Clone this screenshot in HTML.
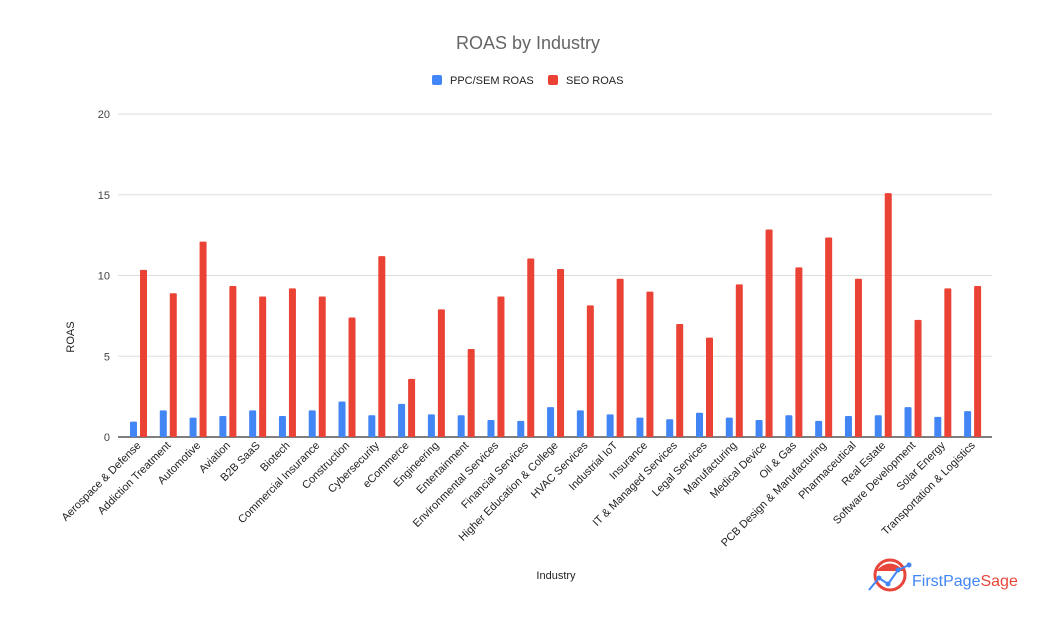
<!DOCTYPE html>
<html><head><meta charset="utf-8"><style>
body{margin:0;background:#fff;font-family:"Liberation Sans",Arial,sans-serif;}
</style></head><body>
<svg id="chart" width="1049" height="617" xmlns="http://www.w3.org/2000/svg" font-family="Liberation Sans, Arial, sans-serif">
<rect width="1049" height="617" fill="#fff"/>
<text x="528" y="49" text-anchor="middle" font-size="18" fill="#666">ROAS by Industry</text>
<g>
<rect x="432" y="75" width="10" height="10" rx="2" fill="#4285f4"/>
<text x="450" y="84" font-size="11" fill="#222">PPC/SEM ROAS</text>
<rect x="548" y="75" width="10" height="10" rx="2" fill="#ea4335"/>
<text x="566" y="84" font-size="11" fill="#222">SEO ROAS</text>
</g>
<g id="grid"></g><g id="bars"></g><g id="xlabels"></g>
<text transform="translate(74,337) rotate(-90)" text-anchor="middle" font-size="11" fill="#222">ROAS</text>
<text x="556" y="579" text-anchor="middle" font-size="11" fill="#222">Industry</text>
<g>
<circle cx="890" cy="575" r="15" fill="#fff" stroke="#e8463a" stroke-width="3"/>
<path d="M876,571 Q890,556 904,571 Z" fill="#e8463a"/>
<polyline points="869,590 879,578 888,584 898,570 909,565" fill="none" stroke="#4285f4" stroke-width="2"/>
<circle cx="879" cy="578" r="2.5" fill="#4285f4"/><circle cx="888" cy="584" r="2.5" fill="#4285f4"/><circle cx="898" cy="570" r="2.5" fill="#4285f4"/><circle cx="909" cy="565" r="2.5" fill="#4285f4"/>
<text x="912" y="586" font-size="16" fill="#4285f4">FirstPage<tspan fill="#e8463a">Sage</tspan></text>
</g>
</svg>
<script>
const categories=["Aerospace & Defense","Addiction Treatment","Automotive","Aviation","B2B SaaS","Biotech","Commercial Insurance","Construction","Cybersecurity","eCommerce","Engineering","Entertainment","Environmental Services","Financial Services","Higher Education & College","HVAC Services","Industrial IoT","Insurance","IT & Managed Services","Legal Services","Manufacturing","Medical Device","Oil & Gas","PCB Design & Manufacturing","Pharmaceutical","Real Estate","Software Development","Solar Energy","Transportation & Logistics"];
const ppcValues=[0.95,1.65,1.2,1.3,1.65,1.3,1.65,2.2,1.35,2.05,1.4,1.35,1.05,1.0,1.85,1.65,1.4,1.2,1.1,1.5,1.2,1.05,1.35,1.0,1.3,1.35,1.85,1.25,1.6];
const seoValues=[10.35,8.9,12.1,9.35,8.7,9.2,8.7,7.4,11.2,3.6,7.9,5.45,8.7,11.05,10.4,8.15,9.8,9.0,7.0,6.15,9.45,12.85,10.5,12.35,9.8,15.1,7.25,9.2,9.35];
const yTicks=[0,5,10,15,20];
const NS="http://www.w3.org/2000/svg";
const X0=123.6,STEP=29.79,Y0=437,YMAX=20,PH=323;
const y=v=>Y0-v/YMAX*PH;
const xc=i=>X0+STEP*(i+0.5);
function mk(tag,attrs,parent){const e=document.createElementNS(NS,tag);for(const k in attrs)e.setAttribute(k,attrs[k]);parent.appendChild(e);return e;}
const grid=document.getElementById('grid');
yTicks.forEach(t=>{
 const l=mk('line',{x1:118,x2:992,y1:y(t),y2:y(t),stroke:t===0?'#333':'#ddd','stroke-width':t===0?1.2:1},grid);
 
 
 const tx=mk('text',{x:110,y:y(t)+4,'text-anchor':'end','font-size':11,fill:'#444'},grid);
 tx.textContent=t;
 
 
});
const bars=document.getElementById('bars'),xl=document.getElementById('xlabels');
categories.forEach((c,i)=>{
 const cx=xc(i);
 const b=mk('rect',{x:cx-8.5,y:y(ppcValues[i]),width:7,height:Y0-y(ppcValues[i]),fill:'#4285f4',rx:1},bars);
 
 
 const r=mk('rect',{x:cx+1.5,y:y(seoValues[i]),width:7,height:Y0-y(seoValues[i]),fill:'#ea4335',rx:1},bars);
 
 
 const t=mk('text',{transform:`translate(${cx+3},${446}) rotate(-45)`,'text-anchor':'end','font-size':11,fill:'#222'},xl);
 t.textContent=c;
 
 
});
</script>
</body></html>
